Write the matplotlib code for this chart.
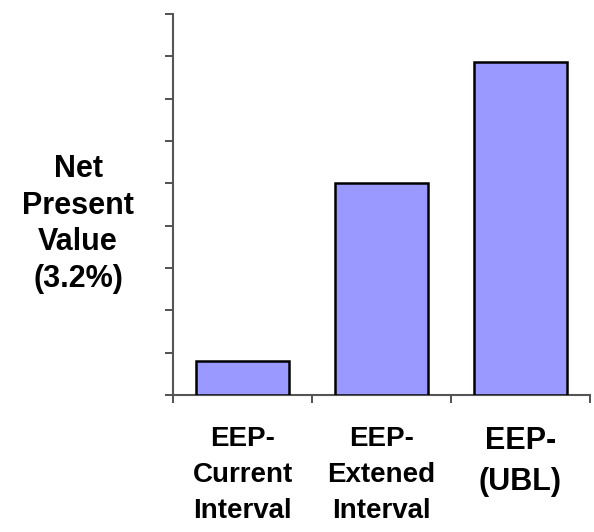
import matplotlib
matplotlib.use("Agg")
import matplotlib.pyplot as plt
import matplotlib.transforms as mtransforms

categories = ["EEP-\nCurrent\nInterval", "EEP-\nExtened\nInterval", "EEP-\n(UBL)"]
values = [0.80, 5.0, 7.87]
label_sizes = [20, 20, 22]
label_shift_px = [(4, 0), (0, 0), (13, -5)]

plt.rcParams['font.family'] = ['Liberation Sans', 'DejaVu Sans']

fig = plt.figure(figsize=(5.94, 5.32), dpi=100)
ax = fig.add_axes([173/594, 1-395/532, (590-173)/594, (395-14)/532])

centers = [i + 0.5 for i in range(len(categories))]
ax.bar(centers, values, width=0.67, color="#9999FF", edgecolor="black", linewidth=1.8, zorder=3)

ax.set_xlim(0, 3)
ax.set_ylim(0, 9)
ax.set_yticks(range(0, 10))
ax.set_yticklabels([])
ax.set_xticks([0, 1, 2, 3])
ax.set_xticklabels([])
ax.set_xticks(centers, minor=True)
ax.set_xticklabels(categories, minor=True, fontweight='bold', linespacing=1.5)
for lbl, s, (dx, dy) in zip(ax.get_xticklabels(minor=True), label_sizes, label_shift_px):
    lbl.set_fontsize(s)
    lbl.set_transform(lbl.get_transform() + mtransforms.ScaledTranslation(dx/100, dy/100, fig.dpi_scale_trans))
ax.tick_params(axis='x', which='minor', length=0, pad=22)
ax.tick_params(axis='both', which='major', length=6, width=1.2, color="#333333", direction='out')
for sp in ['top', 'right']:
    ax.spines[sp].set_visible(False)
for sp in ['left', 'bottom']:
    ax.spines[sp].set_color("#555555")
    ax.spines[sp].set_linewidth(1.5)

fig.text(78/594, 1-224/532, "Net\nPresent\nValue\n(3.2%)", ha='center', va='center',
         fontsize=22, fontweight='bold', linespacing=1.28, multialignment='center')

fig.savefig("out.png", dpi=100)
